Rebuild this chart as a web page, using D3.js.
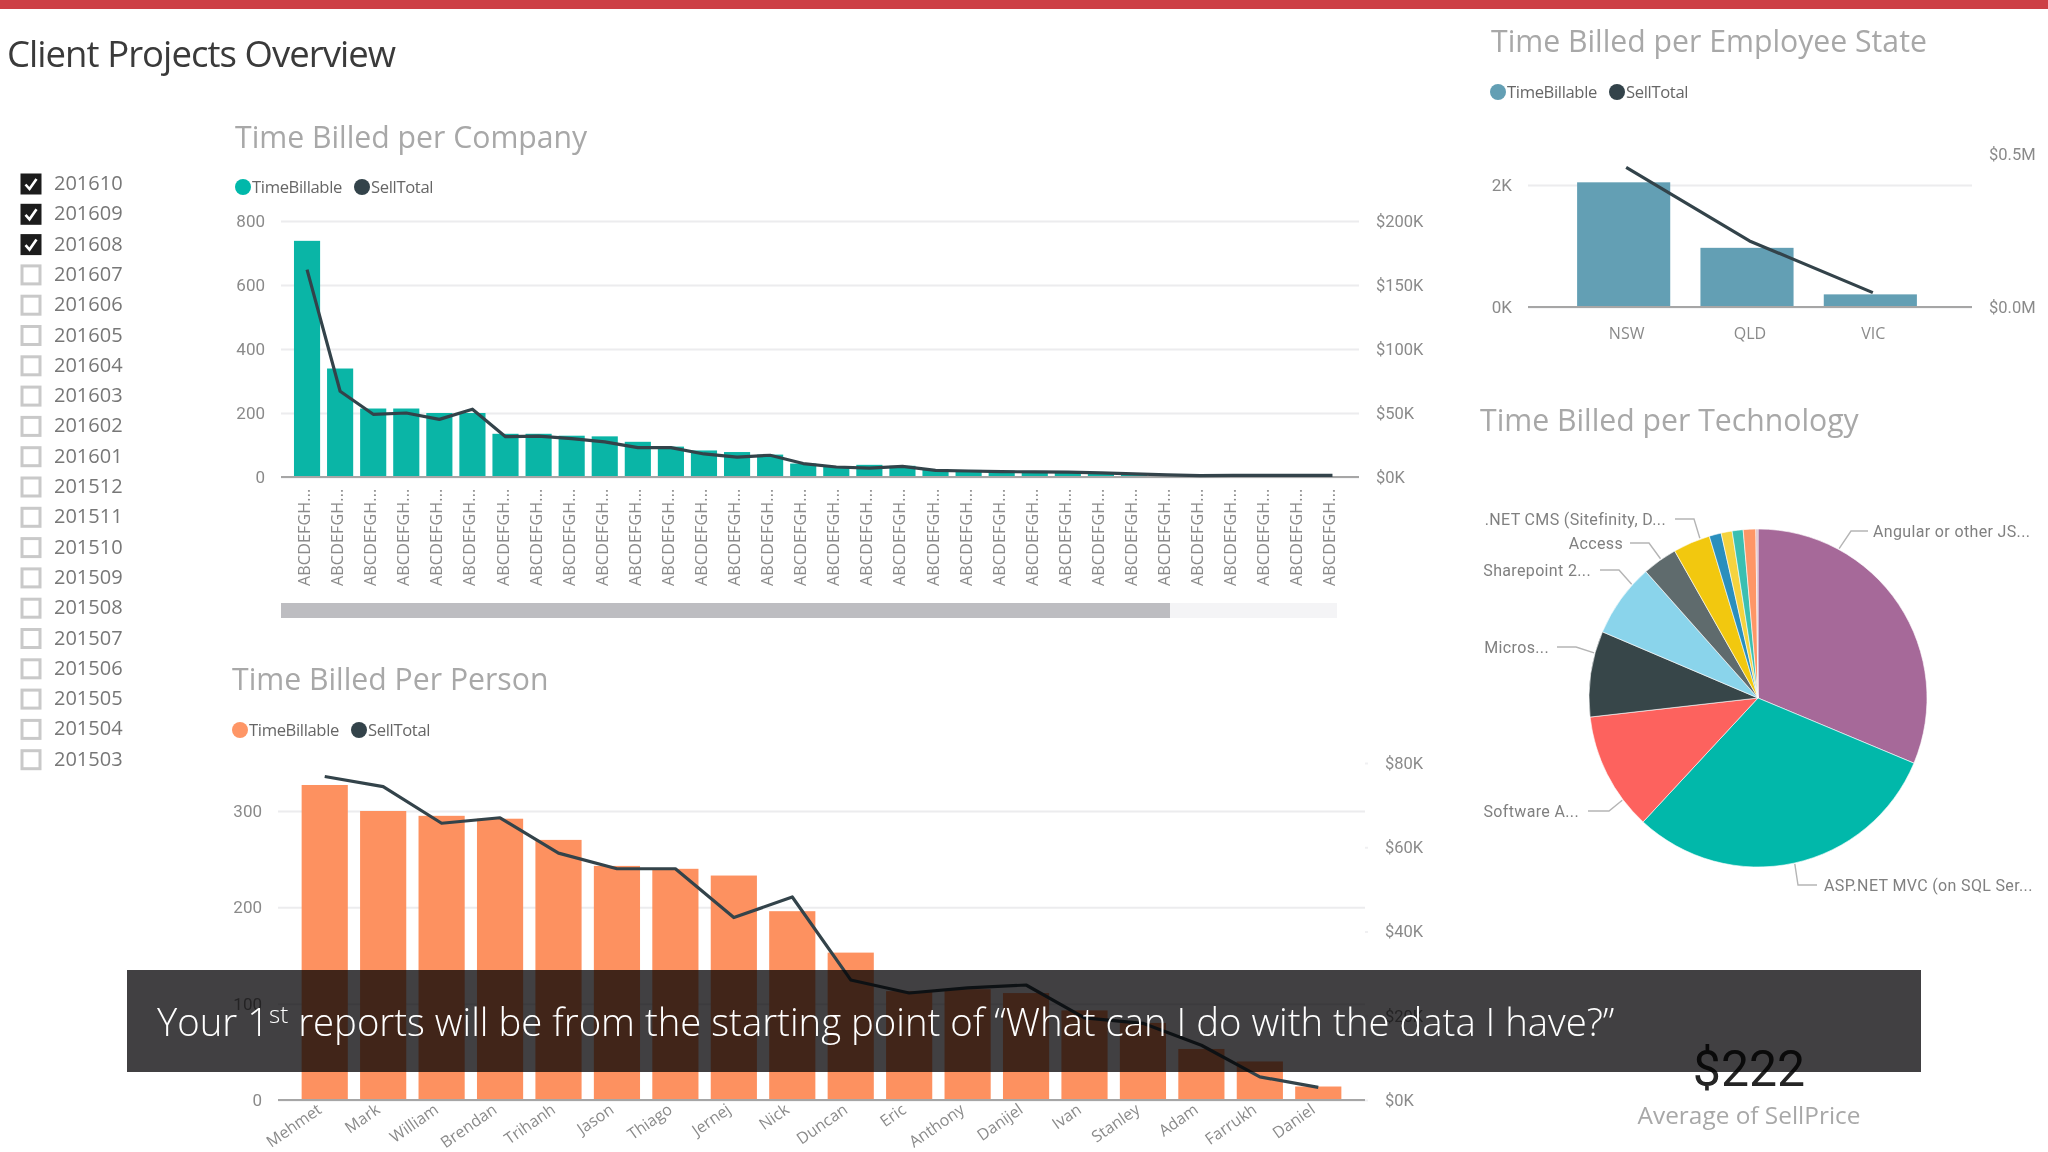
<!DOCTYPE html>
<html>
<head>
<meta charset="utf-8">
<script src="https://cdn.jsdelivr.net/npm/d3@7"></script>
<style>
  html, body { margin: 0; padding: 0; background: #fff; }
  svg { display: block; }
  text { font-family: "Open Sans", sans-serif; }
  .cond { font-family: "Liberation Sans Narrow", "Roboto", sans-serif; }
</style>
</head>
<body>
<svg id="chart" width="2048" height="1152"></svg>
<script>
// values
const months = ['201610', '201609', '201608', '201607', '201606', '201605', '201604', '201603', '201602', '201601',
    '201512', '201511', '201510', '201509', '201508', '201507', '201506', '201505', '201504', '201503'];
const checkedMonths = ['201610', '201609', '201608'];

const companyTime = [738, 339, 214, 214, 200, 200, 135, 135, 129, 127, 110, 95, 83, 78, 70, 42, 33, 38, 35, 24, 22, 20, 19, 18, 15, 12, 9, 6, 5, 4, 4, 2];
const companySell = [162, 67, 49, 50, 45, 53, 31.5, 32, 30, 27.5, 23, 23, 18, 15.6, 17, 10.5, 7.8, 7, 8.3, 5.2, 4.7, 4.2, 4, 3.8, 3.2, 2.4, 1.6, 1, 1.2, 1.3, 1.2, 1.2];
const companyNames = companyTime.map(() => 'ABCDEFGH...');
const companyLeftTicks = [0, 200, 400, 600, 800];
const companyRightTicks = [0, 50, 100, 150, 200];

const people = ['Mehmet', 'Mark', 'William', 'Brendan', 'Trihanh', 'Jason', 'Thiago', 'Jernej', 'Nick', 'Duncan', 'Eric', 'Anthony', 'Danijel', 'Ivan', 'Stanley', 'Adam', 'Farrukh', 'Daniel'];
const personTime = [327, 300, 295, 292, 270, 243, 240, 233, 196, 153, 113, 115, 111, 93, 80, 53, 40, 14];
const personSell = [76.8, 74.4, 65.7, 67, 58.6, 54.9, 54.9, 43.3, 48.2, 28.5, 25.4, 26.6, 27.3, 19.5, 18.2, 13, 5.5, 3];
const personLeftTicks = [0, 100, 200, 300];
const personRightTicks = [0, 20, 40, 60, 80];

const states = ['NSW', 'QLD', 'VIC'];
const stateTime = [2044, 970, 207];
const stateSell = [0.456, 0.216, 0.047];
const stateLeftTicks = [0, 2000];
const stateRightTicks = [0, 0.5];

const techNames = ['Angular or other JS...', 'ASP.NET MVC (on SQL Ser...', 'Software A...', 'Micros...', 'Sharepoint 2...', 'Access', '.NET CMS (Sitefinity, D...', '', '', '', '', ''];
const techShare = [31.3, 30.6, 11.3, 8.2, 7.05, 3.35, 3.55, 1.15, 1.05, 1.05, 1.2, 0.2];
const techColors = ['#a66999', '#01b8aa', '#fd625e', '#374649', '#8ad4eb', '#5f6b6d', '#f2c80f', '#2a8fbd', '#f5d33f', '#3bbfb1', '#fe9666', '#d9b8c4'];

const legendNames = ['TimeBillable', 'SellTotal'];
const dark = '#33434a';
const tickGray = '#8a8a8a';

const svg = d3.select('#chart');

svg.append('rect').attr('width', 2048).attr('height', 9).attr('fill', '#cd4046');
svg.append('text').attr('x', 7).attr('y', 67).attr('font-size', 36.5).attr('letter-spacing', -0.95).attr('fill', '#3a3a3a')
    .text('Client Projects Overview');

// slicer
const slicer = svg.append('g').selectAll('g').data(months).join('g')
    .attr('transform', (d, i) => `translate(0,${184 + i * 30.3})`);
slicer.append('rect').attr('x', 22).attr('y', -9).attr('width', 18).attr('height', 18)
    .attr('fill', d => checkedMonths.includes(d) ? '#1c1c1c' : '#fff')
    .attr('stroke', d => checkedMonths.includes(d) ? '#1c1c1c' : '#c9c9c9').attr('stroke-width', 3);
slicer.filter(d => checkedMonths.includes(d)).append('path').attr('d', 'M25.5,0.5 L29.5,5 L36.5,-5')
    .attr('fill', 'none').attr('stroke', '#fff').attr('stroke-width', 2.6);
slicer.append('text').attr('x', 54).attr('y', 6).attr('font-size', 20).attr('fill', '#777').text(d => d);

function drawTitle(label, x, y) {
    svg.append('text').attr('x', x).attr('y', y).attr('font-size', 30.2).attr('fill', '#a8a8a8').text(label);
}

function drawLegend(color, y, x0, x1) {
    [[color, x0], [dark, x1]].forEach(([c, x], i) => {
        svg.append('circle').attr('cx', x).attr('cy', y).attr('r', 8).attr('fill', c);
        svg.append('text').attr('x', x + 9).attr('y', y + 5.5).attr('font-size', 16.6).attr('letter-spacing', -0.35)
            .attr('fill', '#666').text(legendNames[i]);
    });
}

function comboChart(o) {
    const g = svg.append('g');
    const x = d3.scaleBand().domain(d3.range(o.time.length)).range(o.band)
        .paddingInner(o.padding).paddingOuter(o.padding / 2);
    const yL = d3.scaleLinear().domain(o.leftDomain).range([o.y0, o.y1]);
    const yR = d3.scaleLinear().domain(o.rightDomain).range([o.y0, o.y1R]);

    const left = g.append('g').attr('transform', `translate(${o.gx0},0)`)
        .call(d3.axisLeft(yL).tickValues(o.leftTicks).tickSize(-(o.gx1 - o.gx0)).tickPadding(o.leftPad).tickFormat(o.leftFormat));
    left.select('.domain').remove();
    left.selectAll('line').attr('stroke', '#ececee').attr('stroke-width', 2);
    left.selectAll('text').attr('class', 'cond').attr('font-size', 17).attr('fill', tickGray);

    const right = g.append('g').attr('transform', `translate(${o.gx1},0)`)
        .call(d3.axisRight(yR).tickValues(o.rightTicks).tickSize(o.rightTick).tickPadding(o.rightPad).tickFormat(o.rightFormat));
    right.select('.domain').remove();
    right.selectAll('line').attr('stroke', '#f0f0f2').attr('stroke-width', 2);
    right.selectAll('text').attr('class', 'cond').attr('font-size', 16.5).attr('fill', tickGray);

    g.append('g').selectAll('rect').data(o.time).join('rect')
        .attr('x', (d, i) => x(i)).attr('width', x.bandwidth())
        .attr('y', d => yL(d)).attr('height', d => o.y0 - yL(d)).attr('fill', o.color);

    g.append('line').attr('x1', o.gx0).attr('x2', o.gx1).attr('y1', o.y0).attr('y2', o.y0)
        .attr('stroke', '#a6a6a6').attr('stroke-width', 2);

    const line = d3.line().x((d, i) => x(i) + x.bandwidth() / 2 + (o.lineShift || 0)).y(d => yR(d));
    g.append('path').datum(o.sell).attr('d', line).attr('fill', 'none').attr('stroke', dark).attr('stroke-width', 3.2)
        .attr('stroke-linejoin', 'round');
    return x;
}

// Time Billed per Company
drawTitle('Time Billed per Company', 235, 148);
drawLegend('#01b8aa', 187, 243, 362);
const companyX = comboChart({
    time: companyTime, sell: companySell, color: '#0ab5a6', band: [290.5, 1349], padding: 0.21,
    leftDomain: [0, 800], rightDomain: [0, 200], y0: 477, y1: 221, y1R: 221,
    gx0: 281, gx1: 1359, leftPad: 16, rightPad: 17, rightTick: 0,
    leftTicks: companyLeftTicks, rightTicks: companyRightTicks,
    leftFormat: d3.format('d'), rightFormat: d => `$${d}K`
});
svg.append('g').selectAll('text').data(companyNames).join('text')
    .attr('transform', (d, i) => `translate(${companyX(i) + companyX.bandwidth() / 2 + 3},586) rotate(-90)`)
    .attr('font-size', 16).attr('letter-spacing', 0.2).attr('fill', '#8a8a8a').text(d => d);
svg.append('rect').attr('x', 281).attr('y', 603).attr('width', 1056).attr('height', 15).attr('fill', '#f4f4f6');
svg.append('rect').attr('x', 281).attr('y', 603).attr('width', 889).attr('height', 15).attr('fill', '#bdbdc1');

// Time Billed Per Person
drawTitle('Time Billed Per Person', 232, 690);
drawLegend('#fe9666', 730, 240, 359);
const personX = comboChart({
    time: personTime, sell: personSell, color: '#fd9160', band: [295.5, 1347.5], padding: 0.21,
    leftDomain: [0, 300], rightDomain: [0, 80], y0: 1100, y1: 811, y1R: 763,
    gx0: 278, gx1: 1365, leftPad: 16, rightPad: 17, rightTick: 3,
    leftTicks: personLeftTicks, rightTicks: personRightTicks,
    leftFormat: d3.format('d'), rightFormat: d => `$${d}K`
});
svg.append('g').selectAll('text').data(people).join('text')
    .attr('transform', (d, i) => `translate(${personX(i) + personX.bandwidth() / 2 - 2},1112) rotate(-35)`)
    .attr('text-anchor', 'end').attr('font-size', 16).attr('fill', '#8a8a8a').text(d => d);

// Time Billed per Employee State
drawTitle('Time Billed per Employee State', 1491, 52);
drawLegend('#639fb4', 92, 1498, 1617);
const stateX = comboChart({
    time: stateTime, sell: stateSell, color: '#639fb4', band: [1562, 1932], padding: 0.245, lineShift: 2.5,
    leftDomain: [0, 2000], rightDomain: [0, 0.5], y0: 307, y1: 185, y1R: 154,
    gx0: 1528, gx1: 1972, leftPad: 16, rightPad: 17, rightTick: 0,
    leftTicks: stateLeftTicks, rightTicks: stateRightTicks,
    leftFormat: d => `${d / 1000}K`, rightFormat: d => `$${d.toFixed(1)}M`
});
svg.append('g').selectAll('text').data(states).join('text')
    .attr('x', (d, i) => stateX(i) + stateX.bandwidth() / 2 + 3).attr('y', 339)
    .attr('text-anchor', 'middle').attr('font-size', 16).attr('fill', '#8a8a8a').text(d => d);

// Time Billed per Technology
drawTitle('Time Billed per Technology', 1480, 431);
const pieCx = 1758, pieCy = 698, pieR = 169;
const arc = d3.arc().innerRadius(0).outerRadius(pieR);
const pieData = d3.pie().sort(null)(techShare);
const pieG = svg.append('g').attr('transform', `translate(${pieCx},${pieCy})`);
pieG.selectAll('path').data(pieData).join('path').attr('d', arc)
    .attr('fill', (d, i) => techColors[i]).attr('stroke', '#fff').attr('stroke-width', 0.6);

// leader placement, one row per labelled slice: angle on the rim, elbow, line end, label x and anchor
const leaderAngles = [28.5, 167.5, 233, 285.4, 312, 325, 340];
const leaderElbows = [[1851, 531], [1798, 885], [1609, 811], [1576, 647], [1619, 570], [1649, 543], [1694, 519]];
const leaderEnds = [1868, 1817, 1588, 1557, 1600, 1630, 1675];
const labelXs = [1873, 1824, 1579, 1549, 1591, 1623, 1666];
techNames.slice(0, 7).forEach((name, i) => {
    const a = leaderAngles[i] * Math.PI / 180;
    const sx = pieCx + Math.sin(a) * (pieR + 1), sy = pieCy - Math.cos(a) * (pieR + 1);
    const [ex, ey] = leaderElbows[i];
    svg.append('path').attr('d', `M${sx},${sy} L${ex},${ey} L${leaderEnds[i]},${ey}`)
        .attr('fill', 'none').attr('stroke', '#b5b5b5').attr('stroke-width', 1.4);
    svg.append('text').attr('class', 'cond').attr('x', labelXs[i]).attr('y', ey + 5.5)
        .attr('text-anchor', i < 2 ? 'start' : 'end').attr('font-size', 16).attr('letter-spacing', 0.35)
        .attr('fill', '#808080').text(name);
});

// card
svg.append('text').attr('class', 'cond').attr('x', 1749).attr('y', 1086).attr('text-anchor', 'middle')
    .attr('font-size', 50).attr('fill', '#252525').text('$222');
svg.append('text').attr('x', 1749).attr('y', 1124).attr('text-anchor', 'middle')
    .attr('font-size', 24.4).attr('fill', '#a8a8a8').text('Average of SellPrice');

// caption band multiplies over whatever is under it
svg.append('rect').attr('x', 127).attr('y', 970).attr('width', 1794).attr('height', 102)
    .attr('fill', '#414042').style('mix-blend-mode', 'multiply');
const caption = svg.append('text').attr('x', 157).attr('y', 1036).attr('font-size', 38.3).attr('fill', '#fff').style('font-weight', 300);
caption.append('tspan').text('Your 1');
caption.append('tspan').attr('dy', -13).attr('font-size', 24).text('st');
caption.append('tspan').attr('dy', 13).text(' reports will be from the starting point of \u201CWhat can I do with the data I have?\u201D');
</script>
</body>
</html>
